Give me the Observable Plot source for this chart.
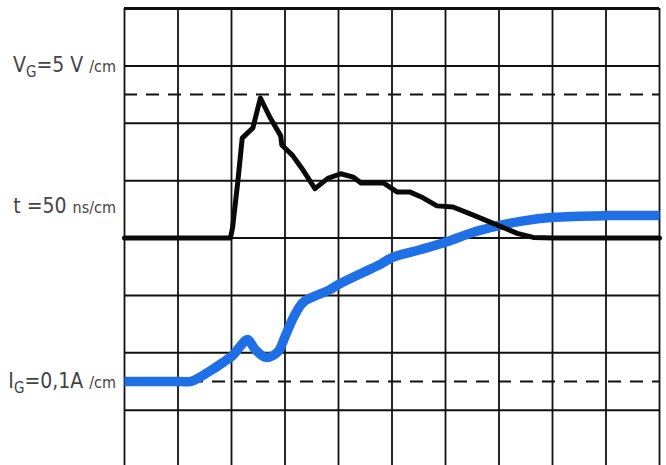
<!DOCTYPE html>
<html>
<head>
<meta charset="utf-8">
<script src="https://cdn.jsdelivr.net/npm/d3@7"></script>
<script src="https://cdn.jsdelivr.net/npm/@observablehq/plot@0.6"></script>
<style>
  html, body { margin: 0; padding: 0; background: #fff; }
  #chart svg { display: block; }
</style>
</head>
<body>
<div id="chart"></div>
<script>
// Gate voltage trace (5 V/cm), time in ns (50 ns/cm)
const vgTime = [0, 99, 101, 106, 110, 120, 127, 136, 146, 147, 157, 167, 178, 190, 202, 214, 221, 242, 255, 267, 279, 292, 307, 326, 349, 367, 382, 401, 500];
const vgVolts = [0, 0, 0.9, 5.0, 8.7, 9.6, 12.2, 10.5, 8.9, 8.1, 7.2, 5.9, 4.3, 5.2, 5.6, 5.3, 4.8, 4.8, 4.0, 4.0, 3.5, 2.8, 2.7, 2.0, 1.1, 0.4, 0.05, 0, 0];

// Gate current trace (0.1 A/cm)
const igTime = [0, 52, 62, 78, 92, 102, 108, 115, 122, 132, 143, 150, 158, 167, 177, 192, 200, 223, 239, 250, 277, 302, 326, 351, 370, 401, 451, 500];
const igAmps = [0, 0, 0, 0.016, 0.033, 0.047, 0.061, 0.073, 0.056, 0.042, 0.051, 0.078, 0.112, 0.138, 0.148, 0.160, 0.169, 0.190, 0.204, 0.216, 0.230, 0.244, 0.260, 0.272, 0.279, 0.286, 0.289, 0.289];

// Screen graticule: 10 x 8 divisions (cm)
const timeDivs = d3.range(0, 550, 50);   // ns
const levelDivs = d3.range(1, 8);        // inner horizontal lines, cm above the screen bottom
const topLevel = [8];                    // upper edge of the screen
const referenceLevels = [6.5, 1.5];      // dashed reference lines, cm

// Trace offsets and sensitivities
const vgZero = 4, vgPerCm = 5;     // V/cm
const igZero = 1.5, igPerCm = 0.1; // A/cm

// Channel labels, split into runs of differently sized text
const labelRows = [
  {level: 7.0, parts: [["V", "main"], ["G", "sub"], ["=5 V ", "main"], ["/cm", "unit"]]},
  {level: 4.55, parts: [["t =50 ", "main"], ["ns/cm", "unit"]]},
  {level: 1.5, parts: [["I", "main"], ["G", "sub"], ["=0,1A ", "main"], ["/cm", "unit"]]}
];

const vg = vgTime.map((t, i) => ({t, y: vgZero + vgVolts[i] / vgPerCm}));
const ig = igTime.map((t, i) => ({t, y: igZero + igAmps[i] / igPerCm}));

const plot = Plot.plot({
  width: 666,
  height: 465,
  marginLeft: 124,
  marginRight: 7,
  marginTop: 8,
  marginBottom: 0,
  x: {domain: [0, 500], range: [124, 659], axis: null},
  y: {domain: [0, 8], range: [467, 8], axis: null},
  marks: [
    Plot.ruleX(timeDivs, {stroke: "#111", strokeWidth: 1.8}),
    Plot.ruleY(levelDivs, {stroke: "#111", strokeWidth: 2}),
    Plot.ruleY(topLevel, {stroke: "#111", strokeWidth: 3}),
    Plot.ruleY(referenceLevels, {stroke: "#111", strokeWidth: 2, strokeDasharray: "13,9"}),
    Plot.line(ig, {x: "t", y: "y", stroke: "#1f6fe6", strokeWidth: 9.5, curve: "catmull-rom", strokeLinecap: "butt"}),
    Plot.line(vg, {x: "t", y: "y", stroke: "#0a0a0a", strokeWidth: 5, curve: "linear", strokeLinejoin: "round"})
  ]
});

// Channel captions at the left of the screen, placed with the plot's y scale
const yScale = plot.scale("y");
const svg = d3.select(plot);
const sizes = {main: 21, sub: 15, unit: 16};
const g = svg.append("g")
  .attr("fill", "#444")
  .attr("font-family", "'DejaVu Sans Condensed', 'Liberation Sans Narrow', 'DejaVu Sans', sans-serif");
for (const row of labelRows) {
  const text = g.append("text")
    .attr("x", 116)
    .attr("y", yScale.apply(row.level) + 7)
    .attr("text-anchor", "end");
  let prev = null;
  for (const [str, kind] of row.parts) {
    const span = text.append("tspan")
      .attr("font-size", sizes[kind])
      .text(str);
    if (kind === "sub") span.attr("dy", 5);
    else if (prev === "sub") span.attr("dy", -5);
    prev = kind;
  }
}

document.getElementById("chart").appendChild(plot);
</script>
</body>
</html>
